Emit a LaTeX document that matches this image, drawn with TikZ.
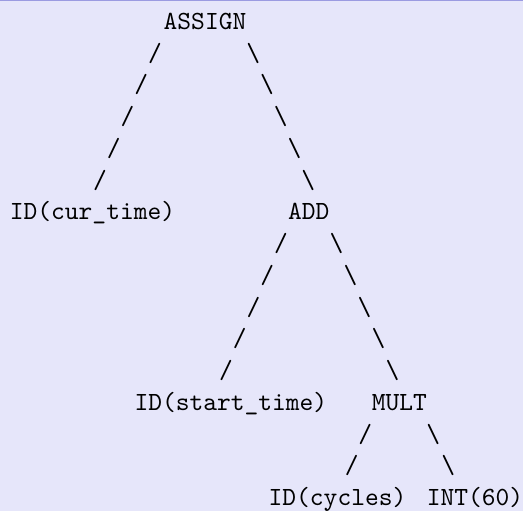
\documentclass[tikz,border=0pt]{standalone}
\usepackage{fontspec}
\newfontfamily\codefont{lmmono10-regular}[Extension=.otf]
\definecolor{boxbg}{RGB}{230,230,250}
\definecolor{boxrule}{RGB}{155,155,225}
\tikzset{
  tok/.style={font=\codefont\fontsize{26.2}{31.7}\selectfont,inner sep=0pt,anchor=base},
}
\begin{document}
\begin{tikzpicture}[x=1pt,y=-1pt]
\useasboundingbox (0,0) rectangle (523,511);
\fill[boxbg] (0,0) rectangle (523,511);
\draw[boxrule,line width=1.5pt] (0,0.75) -- (523,0.75);
\node[tok] (assign) at (205,29.5) {ASSIGN};
\node[tok] (cur) at (92.5,219.9) {ID(cur\_time)};
\node[tok] (add) at (308.7,219.9) {ADD};
\node[tok] (start) at (230.8,410.3) {ID(start\_time)};
\node[tok] (mult) at (399.3,410.3) {MULT};
\node[tok] (cyc) at (337.5,505.5) {ID(cycles)};
\node[tok] (int) at (475,505.5) {INT(60)};
\coordinate (assign-l) at (168.75,29.5);
\coordinate (cur-t) at (86.25,219.9);
\coordinate (assign-r) at (239.5,29.5);
\coordinate (add-t) at (322,219.9);
\coordinate (add-l) at (294.75,219.9);
\coordinate (start-t) at (212.25,410.3);
\coordinate (add-r) at (322.5,219.9);
\coordinate (mult-t) at (406.5,410.3);
\coordinate (mult-l) at (378.5,410.3);
\coordinate (cyc-t) at (338.5,505.5);
\coordinate (mult-r) at (418.3,410.3);
\coordinate (int-t) at (463.3,505.5);
\foreach \r in {1,...,5} {
  \path (assign-l) -- node[tok,pos=\r/6] {/} (cur-t);
  \path (assign-r) -- node[tok,pos=\r/6] {\textbackslash} (add-t);
  \path (add-l) -- node[tok,pos=\r/6] {/} (start-t);
  \path (add-r) -- node[tok,pos=\r/6] {\textbackslash} (mult-t);
}
\foreach \r in {1,2} {
  \path (mult-l) -- node[tok,pos=\r/3] {/} (cyc-t);
  \path (mult-r) -- node[tok,pos=\r/3] {\textbackslash} (int-t);
}
\end{tikzpicture}
\end{document}
